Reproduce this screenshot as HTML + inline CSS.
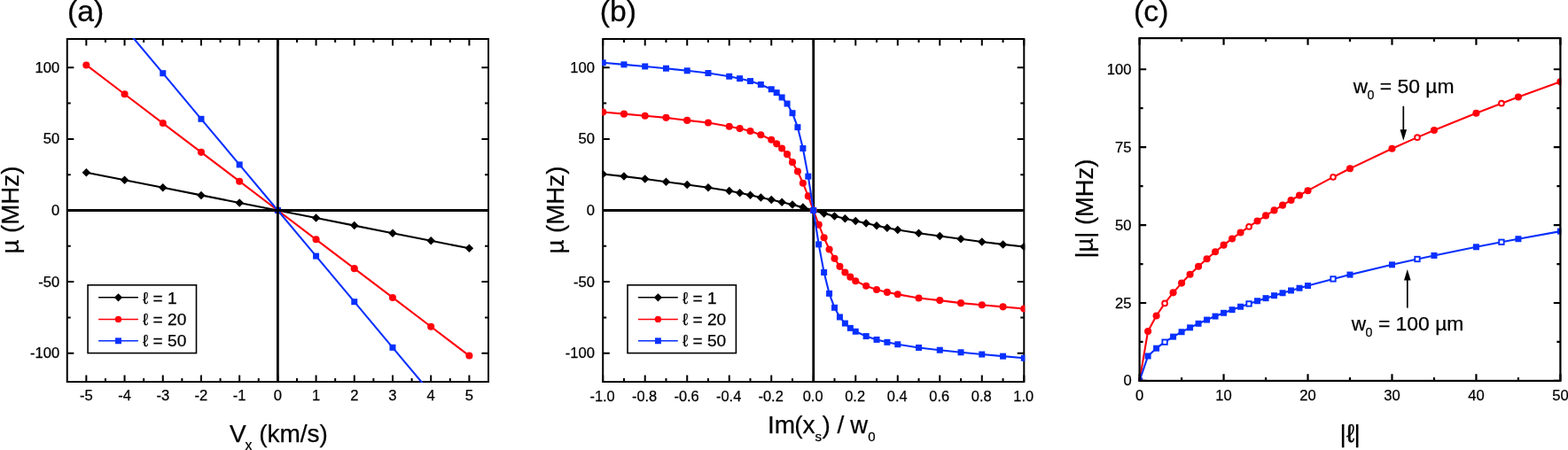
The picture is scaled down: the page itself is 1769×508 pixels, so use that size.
<!DOCTYPE html>
<html lang="en"><head><meta charset="utf-8"><title>Figure</title>
<style>html,body{margin:0;padding:0;background:#fff}body{width:1769px;height:508px;overflow:hidden}svg{display:block}text{font-family:"Liberation Sans", sans-serif;fill:#000;stroke:#000;stroke-width:0.25px}</style></head><body>
<svg width="1769" height="508" viewBox="0 0 1769 508">
<rect width="1769" height="508" fill="#fff"/>
<clipPath id="ca"><rect x="74.75" y="43.0" width="477.25" height="389.0"/></clipPath>
<g id="panel-a">
<rect x="75.75" y="44" width="475.25" height="387" fill="none" stroke="#000" stroke-width="2.0"/>
<path d="M97.35 431v-7.6M97.35 44v7.6M140.56 431v-7.6M140.56 44v7.6M183.76 431v-7.6M183.76 44v7.6M226.97 431v-7.6M226.97 44v7.6M270.17 431v-7.6M270.17 44v7.6M313.38 431v-7.6M313.38 44v7.6M356.58 431v-7.6M356.58 44v7.6M399.78 431v-7.6M399.78 44v7.6M442.99 431v-7.6M442.99 44v7.6M486.19 431v-7.6M486.19 44v7.6M529.4 431v-7.6M529.4 44v7.6M118.95 431v-4.0M118.95 44v4.0M162.16 431v-4.0M162.16 44v4.0M205.36 431v-4.0M205.36 44v4.0M248.57 431v-4.0M248.57 44v4.0M291.77 431v-4.0M291.77 44v4.0M334.98 431v-4.0M334.98 44v4.0M378.18 431v-4.0M378.18 44v4.0M421.39 431v-4.0M421.39 44v4.0M464.59 431v-4.0M464.59 44v4.0M507.8 431v-4.0M507.8 44v4.0M75.75 398.75h7.6M551 398.75h-7.6M75.75 318.12h7.6M551 318.12h-7.6M75.75 237.5h7.6M551 237.5h-7.6M75.75 156.88h7.6M551 156.88h-7.6M75.75 76.25h7.6M551 76.25h-7.6M75.75 358.44h4.0M551 358.44h-4.0M75.75 277.81h4.0M551 277.81h-4.0M75.75 197.19h4.0M551 197.19h-4.0M75.75 116.56h4.0M551 116.56h-4.0" fill="none" stroke="#000" stroke-width="2.0"/>
<g clip-path="url(#ca)">
<path d="M97.35 194.69L140.56 203.25L183.76 211.81L226.97 220.38L270.17 228.94L313.38 237.5L356.58 246.06L399.78 254.62L442.99 263.19L486.19 271.75L529.4 280.31" fill="none" stroke="#000" stroke-width="2.1" stroke-linejoin="round"/><path d="M92.6 194.69L97.35 189.94L102.1 194.69L97.35 199.44Z" fill="#000"/><path d="M135.81 203.25L140.56 198.5L145.31 203.25L140.56 208Z" fill="#000"/><path d="M179.01 211.81L183.76 207.06L188.51 211.81L183.76 216.56Z" fill="#000"/><path d="M222.22 220.38L226.97 215.63L231.72 220.38L226.97 225.13Z" fill="#000"/><path d="M265.42 228.94L270.17 224.19L274.92 228.94L270.17 233.69Z" fill="#000"/><path d="M308.62 237.5L313.38 232.75L318.12 237.5L313.38 242.25Z" fill="#000"/><path d="M351.83 246.06L356.58 241.31L361.33 246.06L356.58 250.81Z" fill="#000"/><path d="M395.03 254.62L399.78 249.87L404.53 254.62L399.78 259.37Z" fill="#000"/><path d="M438.24 263.19L442.99 258.44L447.74 263.19L442.99 267.94Z" fill="#000"/><path d="M481.44 271.75L486.19 267L490.94 271.75L486.19 276.5Z" fill="#000"/><path d="M524.65 280.31L529.4 275.56L534.15 280.31L529.4 285.06Z" fill="#000"/>
<path d="M97.35 73.43L140.56 106.24L183.76 139.06L226.97 171.87L270.17 204.69L313.38 237.5L356.58 270.31L399.78 303.13L442.99 335.94L486.19 368.76L529.4 401.57" fill="none" stroke="#ff000c" stroke-width="2.1" stroke-linejoin="round"/><circle cx="97.35" cy="73.43" r="4.05" fill="#ff000c"/><circle cx="140.56" cy="106.24" r="4.05" fill="#ff000c"/><circle cx="183.76" cy="139.06" r="4.05" fill="#ff000c"/><circle cx="226.97" cy="171.87" r="4.05" fill="#ff000c"/><circle cx="270.17" cy="204.69" r="4.05" fill="#ff000c"/><circle cx="313.38" cy="237.5" r="4.05" fill="#ff000c"/><circle cx="356.58" cy="270.31" r="4.05" fill="#ff000c"/><circle cx="399.78" cy="303.13" r="4.05" fill="#ff000c"/><circle cx="442.99" cy="335.94" r="4.05" fill="#ff000c"/><circle cx="486.19" cy="368.76" r="4.05" fill="#ff000c"/><circle cx="529.4" cy="401.57" r="4.05" fill="#ff000c"/>
<path d="M97.35 -20.5L140.56 31.1L183.76 82.7L226.97 134.3L270.17 185.9L313.38 237.5L356.58 289.1L399.78 340.7L442.99 392.3L486.19 443.9L529.4 495.5" fill="none" stroke="#0830ff" stroke-width="2.1" stroke-linejoin="round"/><rect x="93.85" y="-24" width="7.0" height="7.0" fill="#0830ff"/><rect x="137.06" y="27.6" width="7.0" height="7.0" fill="#0830ff"/><rect x="180.26" y="79.2" width="7.0" height="7.0" fill="#0830ff"/><rect x="223.47" y="130.8" width="7.0" height="7.0" fill="#0830ff"/><rect x="266.67" y="182.4" width="7.0" height="7.0" fill="#0830ff"/><rect x="309.88" y="234" width="7.0" height="7.0" fill="#0830ff"/><rect x="353.08" y="285.6" width="7.0" height="7.0" fill="#0830ff"/><rect x="396.28" y="337.2" width="7.0" height="7.0" fill="#0830ff"/><rect x="439.49" y="388.8" width="7.0" height="7.0" fill="#0830ff"/><rect x="482.69" y="440.4" width="7.0" height="7.0" fill="#0830ff"/><rect x="525.9" y="492" width="7.0" height="7.0" fill="#0830ff"/>
</g>
<path d="M75.75 237.5H551M313.38 44V431" stroke="#000" stroke-width="2.8" fill="none"/>
<text x="97.35" y="452.4" font-size="16.6" text-anchor="middle" >-5</text>
<text x="140.56" y="452.4" font-size="16.6" text-anchor="middle" >-4</text>
<text x="183.76" y="452.4" font-size="16.6" text-anchor="middle" >-3</text>
<text x="226.97" y="452.4" font-size="16.6" text-anchor="middle" >-2</text>
<text x="270.17" y="452.4" font-size="16.6" text-anchor="middle" >-1</text>
<text x="313.38" y="452.4" font-size="16.6" text-anchor="middle" >0</text>
<text x="356.58" y="452.4" font-size="16.6" text-anchor="middle" >1</text>
<text x="399.78" y="452.4" font-size="16.6" text-anchor="middle" >2</text>
<text x="442.99" y="452.4" font-size="16.6" text-anchor="middle" >3</text>
<text x="486.19" y="452.4" font-size="16.6" text-anchor="middle" >4</text>
<text x="529.4" y="452.4" font-size="16.6" text-anchor="middle" >5</text>
<text x="67.15" y="404.35" font-size="16.6" text-anchor="end" >-100</text>
<text x="67.15" y="323.73" font-size="16.6" text-anchor="end" >-50</text>
<text x="67.15" y="243.1" font-size="16.6" text-anchor="end" >0</text>
<text x="67.15" y="162.47" font-size="16.6" text-anchor="end" >50</text>
<text x="67.15" y="81.85" font-size="16.6" text-anchor="end" >100</text>
<text x="76" y="23.9" font-size="33.7" text-anchor="start" >(a)</text>
<text transform="translate(21.3 286.6) rotate(-90)" font-size="27.7">µ (MHz)</text>
<text y="499.1" font-size="28"><tspan x="259">V</tspan><tspan x="276.5" dy="8.5" font-size="15.8">x</tspan><tspan x="292.2" dy="-8.5">(km/s)</tspan></text>
</g>
<rect x="99.1" y="321.8" width="122.4" height="76.8" fill="#fff" stroke="#000" stroke-width="1.6"/><path d="M111.1 335.8H155.9" stroke="#000" stroke-width="1.5"/><path d="M128.9 335.8L133.5 331.2L138.1 335.8L133.5 340.4Z" fill="#000"/><text y="342.5" font-size="19.1"><tspan x="161">ℓ</tspan><tspan x="167.3"> = 1</tspan></text><path d="M111.1 360.4H155.9" stroke="#ff000c" stroke-width="1.5"/><circle cx="133.5" cy="360.4" r="3.7" fill="#ff000c"/><text y="367.1" font-size="19.1"><tspan x="161">ℓ</tspan><tspan x="167.3"> = 20</tspan></text><path d="M111.1 384.8H155.9" stroke="#0830ff" stroke-width="1.5"/><rect x="130.05" y="381.35" width="6.9" height="6.9" fill="#0830ff"/><text y="391.4" font-size="19.1"><tspan x="161">ℓ</tspan><tspan x="167.3"> = 50</tspan></text>
<clipPath id="cb"><rect x="679.2" y="43.0" width="477.0999999999999" height="389.0"/></clipPath>
<g id="panel-b">
<rect x="680.2" y="44" width="475.1" height="387" fill="none" stroke="#000" stroke-width="2.0"/>
<path d="M680.2 431v-7.6M680.2 44v7.6M727.71 431v-7.6M727.71 44v7.6M775.22 431v-7.6M775.22 44v7.6M822.73 431v-7.6M822.73 44v7.6M870.24 431v-7.6M870.24 44v7.6M917.75 431v-7.6M917.75 44v7.6M965.26 431v-7.6M965.26 44v7.6M1012.77 431v-7.6M1012.77 44v7.6M1060.28 431v-7.6M1060.28 44v7.6M1107.79 431v-7.6M1107.79 44v7.6M1155.3 431v-7.6M1155.3 44v7.6M703.96 431v-4.0M703.96 44v4.0M751.47 431v-4.0M751.47 44v4.0M798.98 431v-4.0M798.98 44v4.0M846.49 431v-4.0M846.49 44v4.0M894 431v-4.0M894 44v4.0M941.5 431v-4.0M941.5 44v4.0M989.01 431v-4.0M989.01 44v4.0M1036.53 431v-4.0M1036.53 44v4.0M1084.03 431v-4.0M1084.03 44v4.0M1131.55 431v-4.0M1131.55 44v4.0M680.2 398.75h7.6M1155.3 398.75h-7.6M680.2 318.12h7.6M1155.3 318.12h-7.6M680.2 237.5h7.6M1155.3 237.5h-7.6M680.2 156.88h7.6M1155.3 156.88h-7.6M680.2 76.25h7.6M1155.3 76.25h-7.6M680.2 358.44h4.0M1155.3 358.44h-4.0M680.2 277.81h4.0M1155.3 277.81h-4.0M680.2 197.19h4.0M1155.3 197.19h-4.0M680.2 116.56h4.0M1155.3 116.56h-4.0" fill="none" stroke="#000" stroke-width="2.0"/>
<path d="M680.2 237.5H1155.3M917.75 44V431" stroke="#000" stroke-width="2.8" fill="none"/>
<g clip-path="url(#cb)">
<path d="M680.2 196.54L703.96 199.12L727.71 202.03L751.47 205.25L775.22 208.47L798.98 211.7L822.73 215.57L834.61 217.83L846.49 220.25L858.36 222.99L870.24 225.41L882.12 228.31L894 231.05L905.87 234.11L917.75 237.5L929.63 240.89L941.5 243.95L953.38 246.69L965.26 249.59L977.14 252.01L989.01 254.75L1000.89 257.17L1012.77 259.43L1036.53 263.3L1060.28 266.52L1084.03 269.75L1107.79 272.98L1131.55 275.88L1155.3 278.46" fill="none" stroke="#000" stroke-width="2.1" stroke-linejoin="round"/><path d="M675.45 196.54L680.2 191.79L684.95 196.54L680.2 201.29Z" fill="#000"/><path d="M699.21 199.12L703.96 194.37L708.71 199.12L703.96 203.87Z" fill="#000"/><path d="M722.96 202.03L727.71 197.28L732.46 202.03L727.71 206.78Z" fill="#000"/><path d="M746.72 205.25L751.47 200.5L756.22 205.25L751.47 210Z" fill="#000"/><path d="M770.47 208.47L775.22 203.72L779.97 208.47L775.22 213.22Z" fill="#000"/><path d="M794.23 211.7L798.98 206.95L803.73 211.7L798.98 216.45Z" fill="#000"/><path d="M817.98 215.57L822.73 210.82L827.48 215.57L822.73 220.32Z" fill="#000"/><path d="M829.86 217.83L834.61 213.08L839.36 217.83L834.61 222.58Z" fill="#000"/><path d="M841.74 220.25L846.49 215.5L851.24 220.25L846.49 225Z" fill="#000"/><path d="M853.61 222.99L858.36 218.24L863.11 222.99L858.36 227.74Z" fill="#000"/><path d="M865.49 225.41L870.24 220.66L874.99 225.41L870.24 230.16Z" fill="#000"/><path d="M877.37 228.31L882.12 223.56L886.87 228.31L882.12 233.06Z" fill="#000"/><path d="M889.25 231.05L894 226.3L898.75 231.05L894 235.8Z" fill="#000"/><path d="M901.12 234.11L905.87 229.36L910.62 234.11L905.87 238.86Z" fill="#000"/><path d="M913 237.5L917.75 232.75L922.5 237.5L917.75 242.25Z" fill="#000"/><path d="M924.88 240.89L929.63 236.14L934.38 240.89L929.63 245.64Z" fill="#000"/><path d="M936.75 243.95L941.5 239.2L946.25 243.95L941.5 248.7Z" fill="#000"/><path d="M948.63 246.69L953.38 241.94L958.13 246.69L953.38 251.44Z" fill="#000"/><path d="M960.51 249.59L965.26 244.84L970.01 249.59L965.26 254.34Z" fill="#000"/><path d="M972.39 252.01L977.14 247.26L981.89 252.01L977.14 256.76Z" fill="#000"/><path d="M984.26 254.75L989.01 250L993.76 254.75L989.01 259.5Z" fill="#000"/><path d="M996.14 257.17L1000.89 252.42L1005.64 257.17L1000.89 261.92Z" fill="#000"/><path d="M1008.02 259.43L1012.77 254.68L1017.52 259.43L1012.77 264.18Z" fill="#000"/><path d="M1031.78 263.3L1036.53 258.55L1041.28 263.3L1036.53 268.05Z" fill="#000"/><path d="M1055.53 266.52L1060.28 261.77L1065.03 266.52L1060.28 271.27Z" fill="#000"/><path d="M1079.28 269.75L1084.03 265L1088.78 269.75L1084.03 274.5Z" fill="#000"/><path d="M1103.04 272.98L1107.79 268.23L1112.54 272.98L1107.79 277.73Z" fill="#000"/><path d="M1126.8 275.88L1131.55 271.13L1136.3 275.88L1131.55 280.63Z" fill="#000"/><path d="M1150.55 278.46L1155.3 273.71L1160.05 278.46L1155.3 283.21Z" fill="#000"/>
<path d="M680.2 126.56L703.96 128.66L727.71 130.75L751.47 132.85L775.22 135.91L798.98 138.49L822.73 142.69L834.61 145.1L846.49 148.01L858.36 152.2L870.24 157.68L876.18 162.36L882.12 167.52L888.06 174.13L894 183.16L899.93 193.48L905.87 206.7L911.81 221.38L917.75 237.5L923.69 253.62L929.63 268.3L935.57 281.52L941.5 291.84L947.44 300.87L953.38 307.48L959.32 312.64L965.26 317.32L977.14 322.8L989.01 326.99L1000.89 329.9L1012.77 332.31L1036.53 336.51L1060.28 339.09L1084.03 342.15L1107.79 344.25L1131.55 346.34L1155.3 348.44" fill="none" stroke="#ff000c" stroke-width="2.1" stroke-linejoin="round"/><circle cx="680.2" cy="126.56" r="4.05" fill="#ff000c"/><circle cx="703.96" cy="128.66" r="4.05" fill="#ff000c"/><circle cx="727.71" cy="130.75" r="4.05" fill="#ff000c"/><circle cx="751.47" cy="132.85" r="4.05" fill="#ff000c"/><circle cx="775.22" cy="135.91" r="4.05" fill="#ff000c"/><circle cx="798.98" cy="138.49" r="4.05" fill="#ff000c"/><circle cx="822.73" cy="142.69" r="4.05" fill="#ff000c"/><circle cx="834.61" cy="145.1" r="4.05" fill="#ff000c"/><circle cx="846.49" cy="148.01" r="4.05" fill="#ff000c"/><circle cx="858.36" cy="152.2" r="4.05" fill="#ff000c"/><circle cx="870.24" cy="157.68" r="4.05" fill="#ff000c"/><circle cx="876.18" cy="162.36" r="4.05" fill="#ff000c"/><circle cx="882.12" cy="167.52" r="4.05" fill="#ff000c"/><circle cx="888.06" cy="174.13" r="4.05" fill="#ff000c"/><circle cx="894" cy="183.16" r="4.05" fill="#ff000c"/><circle cx="899.93" cy="193.48" r="4.05" fill="#ff000c"/><circle cx="905.87" cy="206.7" r="4.05" fill="#ff000c"/><circle cx="911.81" cy="221.38" r="4.05" fill="#ff000c"/><circle cx="917.75" cy="237.5" r="4.05" fill="#ff000c"/><circle cx="923.69" cy="253.62" r="4.05" fill="#ff000c"/><circle cx="929.63" cy="268.3" r="4.05" fill="#ff000c"/><circle cx="935.57" cy="281.52" r="4.05" fill="#ff000c"/><circle cx="941.5" cy="291.84" r="4.05" fill="#ff000c"/><circle cx="947.44" cy="300.87" r="4.05" fill="#ff000c"/><circle cx="953.38" cy="307.48" r="4.05" fill="#ff000c"/><circle cx="959.32" cy="312.64" r="4.05" fill="#ff000c"/><circle cx="965.26" cy="317.32" r="4.05" fill="#ff000c"/><circle cx="977.14" cy="322.8" r="4.05" fill="#ff000c"/><circle cx="989.01" cy="326.99" r="4.05" fill="#ff000c"/><circle cx="1000.89" cy="329.9" r="4.05" fill="#ff000c"/><circle cx="1012.77" cy="332.31" r="4.05" fill="#ff000c"/><circle cx="1036.53" cy="336.51" r="4.05" fill="#ff000c"/><circle cx="1060.28" cy="339.09" r="4.05" fill="#ff000c"/><circle cx="1084.03" cy="342.15" r="4.05" fill="#ff000c"/><circle cx="1107.79" cy="344.25" r="4.05" fill="#ff000c"/><circle cx="1131.55" cy="346.34" r="4.05" fill="#ff000c"/><circle cx="1155.3" cy="348.44" r="4.05" fill="#ff000c"/>
<path d="M680.2 70.77L703.96 72.86L727.71 74.96L751.47 77.22L775.22 79.8L798.98 82.54L822.73 86.25L834.61 88.67L846.49 91.57L858.36 95.44L870.24 100.76L876.18 104.63L882.12 109.95L888.06 117.05L894 127.69L899.93 143.65L905.87 167.52L911.81 199.12L917.75 237.5L923.69 275.88L929.63 307.48L935.57 331.35L941.5 347.31L947.44 357.95L953.38 365.05L959.32 370.37L965.26 374.24L977.14 379.56L989.01 383.43L1000.89 386.33L1012.77 388.75L1036.53 392.46L1060.28 395.2L1084.03 397.78L1107.79 400.04L1131.55 402.14L1155.3 404.23" fill="none" stroke="#0830ff" stroke-width="2.1" stroke-linejoin="round"/><rect x="676.7" y="67.27" width="7.0" height="7.0" fill="#0830ff"/><rect x="700.46" y="69.36" width="7.0" height="7.0" fill="#0830ff"/><rect x="724.21" y="71.46" width="7.0" height="7.0" fill="#0830ff"/><rect x="747.97" y="73.72" width="7.0" height="7.0" fill="#0830ff"/><rect x="771.72" y="76.3" width="7.0" height="7.0" fill="#0830ff"/><rect x="795.48" y="79.04" width="7.0" height="7.0" fill="#0830ff"/><rect x="819.23" y="82.75" width="7.0" height="7.0" fill="#0830ff"/><rect x="831.11" y="85.17" width="7.0" height="7.0" fill="#0830ff"/><rect x="842.99" y="88.07" width="7.0" height="7.0" fill="#0830ff"/><rect x="854.86" y="91.94" width="7.0" height="7.0" fill="#0830ff"/><rect x="866.74" y="97.26" width="7.0" height="7.0" fill="#0830ff"/><rect x="872.68" y="101.13" width="7.0" height="7.0" fill="#0830ff"/><rect x="878.62" y="106.45" width="7.0" height="7.0" fill="#0830ff"/><rect x="884.56" y="113.55" width="7.0" height="7.0" fill="#0830ff"/><rect x="890.5" y="124.19" width="7.0" height="7.0" fill="#0830ff"/><rect x="896.43" y="140.15" width="7.0" height="7.0" fill="#0830ff"/><rect x="902.37" y="164.02" width="7.0" height="7.0" fill="#0830ff"/><rect x="908.31" y="195.62" width="7.0" height="7.0" fill="#0830ff"/><rect x="914.25" y="234" width="7.0" height="7.0" fill="#0830ff"/><rect x="920.19" y="272.38" width="7.0" height="7.0" fill="#0830ff"/><rect x="926.13" y="303.98" width="7.0" height="7.0" fill="#0830ff"/><rect x="932.07" y="327.85" width="7.0" height="7.0" fill="#0830ff"/><rect x="938" y="343.81" width="7.0" height="7.0" fill="#0830ff"/><rect x="943.94" y="354.45" width="7.0" height="7.0" fill="#0830ff"/><rect x="949.88" y="361.55" width="7.0" height="7.0" fill="#0830ff"/><rect x="955.82" y="366.87" width="7.0" height="7.0" fill="#0830ff"/><rect x="961.76" y="370.74" width="7.0" height="7.0" fill="#0830ff"/><rect x="973.64" y="376.06" width="7.0" height="7.0" fill="#0830ff"/><rect x="985.51" y="379.93" width="7.0" height="7.0" fill="#0830ff"/><rect x="997.39" y="382.83" width="7.0" height="7.0" fill="#0830ff"/><rect x="1009.27" y="385.25" width="7.0" height="7.0" fill="#0830ff"/><rect x="1033.03" y="388.96" width="7.0" height="7.0" fill="#0830ff"/><rect x="1056.78" y="391.7" width="7.0" height="7.0" fill="#0830ff"/><rect x="1080.53" y="394.28" width="7.0" height="7.0" fill="#0830ff"/><rect x="1104.29" y="396.54" width="7.0" height="7.0" fill="#0830ff"/><rect x="1128.05" y="398.64" width="7.0" height="7.0" fill="#0830ff"/><rect x="1151.8" y="400.73" width="7.0" height="7.0" fill="#0830ff"/>
</g>
<text x="679.6" y="452.8" font-size="16.4" text-anchor="middle" >-1.0</text>
<text x="727.11" y="452.8" font-size="16.4" text-anchor="middle" >-0.8</text>
<text x="774.62" y="452.8" font-size="16.4" text-anchor="middle" >-0.6</text>
<text x="822.13" y="452.8" font-size="16.4" text-anchor="middle" >-0.4</text>
<text x="869.64" y="452.8" font-size="16.4" text-anchor="middle" >-0.2</text>
<text x="917.15" y="452.8" font-size="16.4" text-anchor="middle" >0.0</text>
<text x="964.66" y="452.8" font-size="16.4" text-anchor="middle" >0.2</text>
<text x="1012.17" y="452.8" font-size="16.4" text-anchor="middle" >0.4</text>
<text x="1059.68" y="452.8" font-size="16.4" text-anchor="middle" >0.6</text>
<text x="1107.19" y="452.8" font-size="16.4" text-anchor="middle" >0.8</text>
<text x="1154.7" y="452.8" font-size="16.4" text-anchor="middle" >1.0</text>
<text x="671" y="404.35" font-size="16.6" text-anchor="end" >-100</text>
<text x="671" y="323.73" font-size="16.6" text-anchor="end" >-50</text>
<text x="671" y="243.1" font-size="16.6" text-anchor="end" >0</text>
<text x="671" y="162.47" font-size="16.6" text-anchor="end" >50</text>
<text x="671" y="81.85" font-size="16.6" text-anchor="end" >100</text>
<text x="676.7" y="23.9" font-size="33.7" text-anchor="start" >(b)</text>
<text transform="translate(635.5 286.6) rotate(-90)" font-size="27.7">µ (MHz)</text>
<text y="489.2" font-size="28"><tspan x="865.9">Im</tspan><tspan x="896.2">(x</tspan><tspan x="919.6" dy="8.7" font-size="15">s</tspan><tspan x="927.5" dy="-8.7">) / </tspan><tspan x="959.3" font-size="27.4">w</tspan><tspan x="979.3" dy="8.7" font-size="15">0</tspan></text>
</g>
<rect x="708" y="321.8" width="122.4" height="76.8" fill="#fff" stroke="#000" stroke-width="1.6"/><path d="M720 335.8H764.8" stroke="#000" stroke-width="1.5"/><path d="M737.8 335.8L742.4 331.2L747 335.8L742.4 340.4Z" fill="#000"/><text y="342.5" font-size="19.1"><tspan x="769.9">ℓ</tspan><tspan x="776.2"> = 1</tspan></text><path d="M720 360.4H764.8" stroke="#ff000c" stroke-width="1.5"/><circle cx="742.4" cy="360.4" r="3.7" fill="#ff000c"/><text y="367.1" font-size="19.1"><tspan x="769.9">ℓ</tspan><tspan x="776.2"> = 20</tspan></text><path d="M720 384.8H764.8" stroke="#0830ff" stroke-width="1.5"/><rect x="738.95" y="381.35" width="6.9" height="6.9" fill="#0830ff"/><text y="391.4" font-size="19.1"><tspan x="769.9">ℓ</tspan><tspan x="776.2"> = 50</tspan></text>
<clipPath id="cc"><rect x="1284.6" y="42.1" width="476.8000000000002" height="388.79999999999995"/></clipPath>
<g id="panel-c">
<g clip-path="url(#cc)">
<path d="M1285.6 429.9L1295.1 374.03L1304.59 356.53L1314.09 342.46L1323.58 330.37L1333.08 319.59L1342.58 309.77L1352.07 300.7L1361.57 292.23L1371.06 284.24L1380.56 276.67L1390.06 269.46L1399.55 262.56L1409.05 255.94L1418.54 249.55L1428.04 243.39L1437.54 237.42L1447.03 231.63L1456.53 226.01L1466.02 220.53L1475.52 215.2L1504.01 199.94L1523 190.31L1570.48 167.77L1598.97 155.13L1617.96 147.01L1665.44 127.69L1693.93 116.66L1712.92 109.52L1760.4 92.33" fill="none" stroke="#ff000c" stroke-width="2.1" stroke-linejoin="round"/><circle cx="1285.6" cy="429.9" r="4.05" fill="#ff000c"/><circle cx="1295.1" cy="374.03" r="4.05" fill="#ff000c"/><circle cx="1304.59" cy="356.53" r="4.05" fill="#ff000c"/><circle cx="1314.09" cy="342.46" r="2.85" fill="#fff" stroke="#ff000c" stroke-width="2"/><circle cx="1323.58" cy="330.37" r="4.05" fill="#ff000c"/><circle cx="1333.08" cy="319.59" r="4.05" fill="#ff000c"/><circle cx="1342.58" cy="309.77" r="4.05" fill="#ff000c"/><circle cx="1352.07" cy="300.7" r="4.05" fill="#ff000c"/><circle cx="1361.57" cy="292.23" r="4.05" fill="#ff000c"/><circle cx="1371.06" cy="284.24" r="4.05" fill="#ff000c"/><circle cx="1380.56" cy="276.67" r="4.05" fill="#ff000c"/><circle cx="1390.06" cy="269.46" r="4.05" fill="#ff000c"/><circle cx="1399.55" cy="262.56" r="4.05" fill="#ff000c"/><circle cx="1409.05" cy="255.94" r="2.85" fill="#fff" stroke="#ff000c" stroke-width="2"/><circle cx="1418.54" cy="249.55" r="4.05" fill="#ff000c"/><circle cx="1428.04" cy="243.39" r="4.05" fill="#ff000c"/><circle cx="1437.54" cy="237.42" r="4.05" fill="#ff000c"/><circle cx="1447.03" cy="231.63" r="4.05" fill="#ff000c"/><circle cx="1456.53" cy="226.01" r="4.05" fill="#ff000c"/><circle cx="1466.02" cy="220.53" r="4.05" fill="#ff000c"/><circle cx="1475.52" cy="215.2" r="4.05" fill="#ff000c"/><circle cx="1504.01" cy="199.94" r="2.85" fill="#fff" stroke="#ff000c" stroke-width="2"/><circle cx="1523" cy="190.31" r="4.05" fill="#ff000c"/><circle cx="1570.48" cy="167.77" r="4.05" fill="#ff000c"/><circle cx="1598.97" cy="155.13" r="2.85" fill="#fff" stroke="#ff000c" stroke-width="2"/><circle cx="1617.96" cy="147.01" r="4.05" fill="#ff000c"/><circle cx="1665.44" cy="127.69" r="4.05" fill="#ff000c"/><circle cx="1693.93" cy="116.66" r="2.85" fill="#fff" stroke="#ff000c" stroke-width="2"/><circle cx="1712.92" cy="109.52" r="4.05" fill="#ff000c"/><circle cx="1760.4" cy="92.33" r="4.05" fill="#ff000c"/>
<path d="M1285.6 429.9L1295.1 401.97L1304.59 393.21L1314.09 386.18L1323.58 380.13L1333.08 374.74L1342.58 369.84L1352.07 365.3L1361.57 361.06L1371.06 357.07L1380.56 353.29L1390.06 349.68L1399.55 346.23L1409.05 342.92L1418.54 339.73L1428.04 336.64L1437.54 333.66L1447.03 330.77L1456.53 327.95L1466.02 325.22L1475.52 322.55L1504.01 314.92L1523 310.1L1570.48 298.83L1598.97 292.51L1617.96 288.46L1665.44 278.79L1693.93 273.28L1712.92 269.71L1760.4 261.12" fill="none" stroke="#0830ff" stroke-width="2.1" stroke-linejoin="round"/><rect x="1282.1" y="426.4" width="7.0" height="7.0" fill="#0830ff"/><rect x="1291.6" y="398.47" width="7.0" height="7.0" fill="#0830ff"/><rect x="1301.09" y="389.71" width="7.0" height="7.0" fill="#0830ff"/><rect x="1311.39" y="383.48" width="5.4" height="5.4" fill="#fff" stroke="#0830ff" stroke-width="1.9"/><rect x="1320.08" y="376.63" width="7.0" height="7.0" fill="#0830ff"/><rect x="1329.58" y="371.24" width="7.0" height="7.0" fill="#0830ff"/><rect x="1339.08" y="366.34" width="7.0" height="7.0" fill="#0830ff"/><rect x="1348.57" y="361.8" width="7.0" height="7.0" fill="#0830ff"/><rect x="1358.07" y="357.56" width="7.0" height="7.0" fill="#0830ff"/><rect x="1367.56" y="353.57" width="7.0" height="7.0" fill="#0830ff"/><rect x="1377.06" y="349.79" width="7.0" height="7.0" fill="#0830ff"/><rect x="1386.56" y="346.18" width="7.0" height="7.0" fill="#0830ff"/><rect x="1396.05" y="342.73" width="7.0" height="7.0" fill="#0830ff"/><rect x="1406.35" y="340.22" width="5.4" height="5.4" fill="#fff" stroke="#0830ff" stroke-width="1.9"/><rect x="1415.04" y="336.23" width="7.0" height="7.0" fill="#0830ff"/><rect x="1424.54" y="333.14" width="7.0" height="7.0" fill="#0830ff"/><rect x="1434.04" y="330.16" width="7.0" height="7.0" fill="#0830ff"/><rect x="1443.53" y="327.27" width="7.0" height="7.0" fill="#0830ff"/><rect x="1453.03" y="324.45" width="7.0" height="7.0" fill="#0830ff"/><rect x="1462.52" y="321.72" width="7.0" height="7.0" fill="#0830ff"/><rect x="1472.02" y="319.05" width="7.0" height="7.0" fill="#0830ff"/><rect x="1501.31" y="312.22" width="5.4" height="5.4" fill="#fff" stroke="#0830ff" stroke-width="1.9"/><rect x="1519.5" y="306.6" width="7.0" height="7.0" fill="#0830ff"/><rect x="1566.98" y="295.33" width="7.0" height="7.0" fill="#0830ff"/><rect x="1596.27" y="289.81" width="5.4" height="5.4" fill="#fff" stroke="#0830ff" stroke-width="1.9"/><rect x="1614.46" y="284.96" width="7.0" height="7.0" fill="#0830ff"/><rect x="1661.94" y="275.29" width="7.0" height="7.0" fill="#0830ff"/><rect x="1691.23" y="270.58" width="5.4" height="5.4" fill="#fff" stroke="#0830ff" stroke-width="1.9"/><rect x="1709.42" y="266.21" width="7.0" height="7.0" fill="#0830ff"/><rect x="1756.9" y="257.62" width="7.0" height="7.0" fill="#0830ff"/>
</g>
<rect x="1285.6" y="43.1" width="474.8" height="386.8" fill="none" stroke="#000" stroke-width="2.2"/>
<path d="M1285.6 429.9v-7.6M1285.6 43.1v7.6M1380.56 429.9v-7.6M1380.56 43.1v7.6M1475.52 429.9v-7.6M1475.52 43.1v7.6M1570.48 429.9v-7.6M1570.48 43.1v7.6M1665.44 429.9v-7.6M1665.44 43.1v7.6M1760.4 429.9v-7.6M1760.4 43.1v7.6M1333.08 429.9v-4.0M1333.08 43.1v4.0M1428.04 429.9v-4.0M1428.04 43.1v4.0M1523 429.9v-4.0M1523 43.1v4.0M1617.96 429.9v-4.0M1617.96 43.1v4.0M1712.92 429.9v-4.0M1712.92 43.1v4.0M1285.6 429.9h7.6M1760.4 429.9h-7.6M1285.6 341.99h7.6M1760.4 341.99h-7.6M1285.6 254.08h7.6M1760.4 254.08h-7.6M1285.6 166.17h7.6M1760.4 166.17h-7.6M1285.6 78.26h7.6M1760.4 78.26h-7.6M1285.6 385.95h4.0M1760.4 385.95h-4.0M1285.6 298.04h4.0M1760.4 298.04h-4.0M1285.6 210.13h4.0M1760.4 210.13h-4.0M1285.6 122.22h4.0M1760.4 122.22h-4.0" fill="none" stroke="#000" stroke-width="2.2"/>
<text x="1285.6" y="451.5" font-size="16.6" text-anchor="middle" >0</text>
<text x="1380.56" y="451.5" font-size="16.6" text-anchor="middle" >10</text>
<text x="1475.52" y="451.5" font-size="16.6" text-anchor="middle" >20</text>
<text x="1570.48" y="451.5" font-size="16.6" text-anchor="middle" >30</text>
<text x="1665.44" y="451.5" font-size="16.6" text-anchor="middle" >40</text>
<text x="1760.4" y="451.5" font-size="16.6" text-anchor="middle" >50</text>
<text x="1276.8" y="434.7" font-size="16.6" text-anchor="end" >0</text>
<text x="1276.4" y="347.79" font-size="16.6" text-anchor="end" >25</text>
<text x="1276.4" y="259.88" font-size="16.6" text-anchor="end" >50</text>
<text x="1276.4" y="171.97" font-size="16.6" text-anchor="end" >75</text>
<text x="1276.4" y="84.06" font-size="16.6" text-anchor="end" >100</text>
<text x="1279.1" y="23.9" font-size="33.7" text-anchor="start" >(c)</text>
<text transform="translate(1232.5 291.5) rotate(-90)" font-size="27.3">|µ| (MHz)</text>
<text y="498.9" font-size="28"><tspan x="1511.4">|</tspan><tspan x="1519" font-size="28.6" stroke="#000" stroke-width="0.45">ℓ</tspan><tspan x="1527.4">|</tspan></text>
<text y="105" font-size="22.9"><tspan x="1526.7" font-size="22.6">w</tspan><tspan x="1542.4" dy="7.2" font-size="14.2">0</tspan><tspan x="1556.7" dy="-7.2">= 50 µm</tspan></text>
<text y="372.9" font-size="22.9"><tspan x="1524.8" font-size="22.6">w</tspan><tspan x="1540.5" dy="7.2" font-size="14.2">0</tspan><tspan x="1554.9" dy="-7.2">= 100 µm</tspan></text>
<path d="M1583.3 119.8V148" stroke="#000" stroke-width="1.7" fill="none"/><path d="M1583.3 158.8l-3.8-12.6h7.6z" fill="#000"/>
<path d="M1587.8 347.6V316" stroke="#000" stroke-width="1.7" fill="none"/><path d="M1587.8 304l-3.8 12.6h7.6z" fill="#000"/>
</g>
</svg></body></html>
